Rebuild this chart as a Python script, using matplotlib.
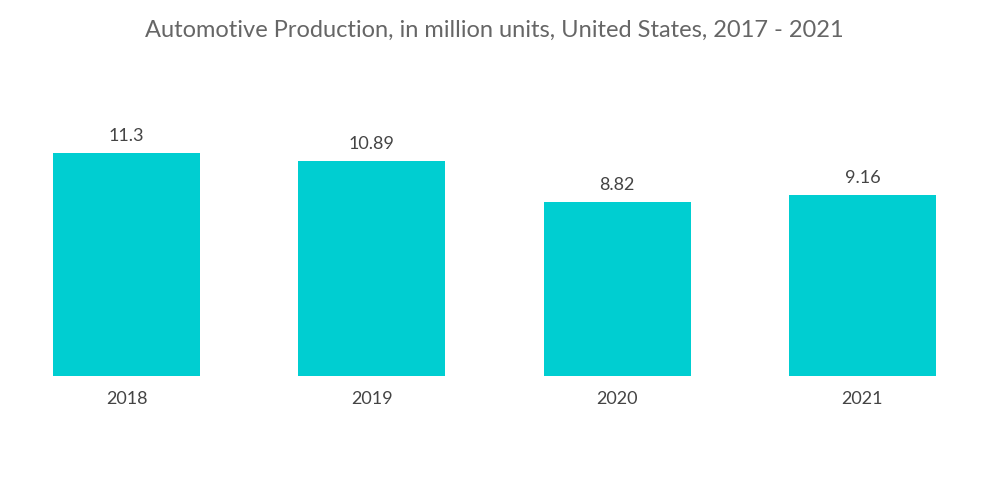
import matplotlib
matplotlib.use("Agg")
import matplotlib.pyplot as plt

years = ["2018", "2019", "2020", "2021"]
values = [11.3, 10.89, 8.82, 9.16]
labels = ["11.3", "10.89", "8.82", "9.16"]

plt.rcParams['font.family'] = ['Lato', 'DejaVu Sans']

fig = plt.figure(figsize=(10, 5.04), dpi=100)
ax = fig.add_axes([0.004, 0.254, 0.981, 0.5476])
x = range(len(years))
bars = ax.bar(x, values, width=0.6, color="#00CED1")
for xi, v, lab in zip(x, values, labels):
    ax.text(xi, v + 0.45, lab, ha="center", va="bottom", fontsize=13, color="#444444")
ax.set_xlim(-0.5, 3.5)
ax.set_ylim(0, 13.99)
ax.set_xticks(list(x))
ax.set_xticklabels(years, fontsize=13, color="#444444")
ax.tick_params(axis="x", length=0, pad=11)
ax.set_yticks([])
for s in ax.spines.values():
    s.set_visible(False)
fig.text(0.494, 0.94, "Automotive Production, in million units, United States, 2017 - 2021",
         ha="center", va="center", fontsize=17, color="#666666")
fig.savefig("out.png", dpi=100)
